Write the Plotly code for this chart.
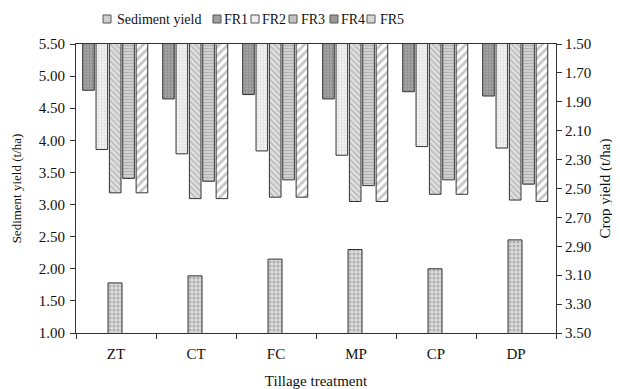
import plotly.graph_objects as go

categories = ["ZT", "CT", "FC", "MP", "CP", "DP"]
sediment_yield = [1.78, 1.89, 2.15, 2.30, 2.00, 2.45]
fr1 = [1.82, 1.88, 1.85, 1.88, 1.83, 1.86]
fr2 = [2.23, 2.26, 2.24, 2.27, 2.21, 2.22]
fr3 = [2.53, 2.57, 2.56, 2.59, 2.54, 2.58]
fr4 = [2.43, 2.45, 2.44, 2.48, 2.44, 2.47]
fr5 = [2.53, 2.57, 2.56, 2.59, 2.54, 2.59]
series_names = ["Sediment yield", "FR1", "FR2", "FR3", "FR4", "FR5"]

left_ticks = [1.00, 1.50, 2.00, 2.50, 3.00, 3.50, 4.00, 4.50, 5.00, 5.50]
right_ticks = [1.50, 1.70, 1.90, 2.10, 2.30, 2.50, 2.70, 2.90, 3.10, 3.30, 3.50]

FONT = "Liberation Serif"
line_col = "#333333"

# figure geometry (page body has an 8px margin)
W, H = 612, 381
ML, MR, MT, MB = 68, 64, 36, 56
PW, PH = W - ML - MR, H - MT - MB

def px_to_paper(px, py):
    return (px - ML) / PW, (H - MB - py) / PH

fig = go.Figure()

sed_pat = dict(shape=".", fgcolor="#808080", bgcolor="#dcdcdc", size=4, solidity=0.45)
fig.add_trace(go.Bar(
    name=series_names[0], x=categories, y=sediment_yield, base=0,
    yaxis="y", width=0.175, offset=-0.1, showlegend=False,
    marker=dict(color="#dcdcdc", line=dict(color=line_col, width=1), pattern=sed_pat),
))

fr_values = [fr1, fr2, fr3, fr4, fr5]
fr_patterns = [
    dict(shape=".", fgcolor="#6a6a6a", bgcolor="#a8a8a8", size=3, solidity=0.45),
    dict(shape=".", fgcolor="#c8c8c8", bgcolor="#f2f2f2", size=3, solidity=0.4),
    dict(shape="\\", fgcolor="#8a8a8a", bgcolor="#e0e0e0", size=4, solidity=0.35),
    dict(shape="-", fgcolor="#8a8a8a", bgcolor="#d6d6d6", size=3, solidity=0.45),
    dict(shape="/", fgcolor="#8c8c8c", bgcolor="#ffffff", size=6, solidity=0.45),
]
w = 0.145
step = 0.167
for i, (name, vals, pat) in enumerate(zip(series_names[1:], fr_values, fr_patterns)):
    center = (i - 2) * step - 0.01
    fig.add_trace(go.Bar(
        name=name, x=categories, y=vals, base=0, yaxis="y2",
        width=w, offset=center - w / 2, showlegend=False,
        marker=dict(color=pat["bgcolor"], line=dict(color=line_col, width=1), pattern=pat),
    ))

# compact legend drawn as swatches + labels (like the original)
swatch_fill = ["#cfcfcf", "#a0a0a0", "#eeeeee", "#c4c4c4", "#9a9a9a", "#d8d8d8"]
swatch_x = [95, 205, 243, 281, 322, 359]
text_x = [108, 215, 253, 292, 332, 371]
leg_y = 11
shapes = []
annotations = []
for name, fill, sx, tx in zip(series_names, swatch_fill, swatch_x, text_x):
    x0, y0 = px_to_paper(sx, leg_y + 4)
    x1, y1 = px_to_paper(sx + 8, leg_y - 4)
    shapes.append(dict(type="rect", xref="paper", yref="paper", x0=x0, y0=y0, x1=x1, y1=y1,
                       fillcolor=fill, line=dict(color="#555555", width=1)))
    ax, ay = px_to_paper(tx, leg_y)
    annotations.append(dict(text=name, xref="paper", yref="paper", x=ax, y=ay,
                            xanchor="left", yanchor="middle", showarrow=False,
                            font=dict(family=FONT, size=14, color="#111111"), borderpad=0))

fig.update_layout(
    width=W, height=H,
    margin=dict(l=ML, r=MR, t=MT, b=MB, autoexpand=False),
    paper_bgcolor="white", plot_bgcolor="white",
    barmode="overlay",
    font=dict(family=FONT, size=15, color="#111111"),
    showlegend=False,
    shapes=shapes,
    annotations=annotations,
    xaxis=dict(type="category", showline=True, linecolor=line_col, linewidth=1, mirror=True,
               ticks="outside", tickson="boundaries", ticklen=5, tickcolor=line_col,
               showgrid=False, tickfont=dict(size=15), automargin=False, ticklabelstandoff=7,
               title=dict(text="Tillage treatment", font=dict(size=15), standoff=14)),
    yaxis=dict(range=[1.0, 5.5], tickvals=left_ticks,
               ticktext=[f"{v:.2f}" for v in left_ticks], automargin=False,
               showline=True, linecolor=line_col, linewidth=1, ticks="outside", ticklen=5,
               tickcolor=line_col, showgrid=False, zeroline=False, tickfont=dict(size=15),
               ticklabelstandoff=2,
               title=dict(text="Sediment yield (t/ha)", font=dict(size=13), standoff=14)),
    yaxis2=dict(range=[3.5, 1.5], tickvals=right_ticks,
                ticktext=[f"{v:.2f}" for v in right_ticks], automargin=False,
                overlaying="y", side="right",
                showline=True, linecolor=line_col, linewidth=1, ticks="outside", ticklen=5,
                tickcolor=line_col, showgrid=False, zeroline=False, tickfont=dict(size=15),
                title=dict(text="Crop yield (t/ha)", font=dict(size=15), standoff=9)),
)

fig.write_html("out.html")
